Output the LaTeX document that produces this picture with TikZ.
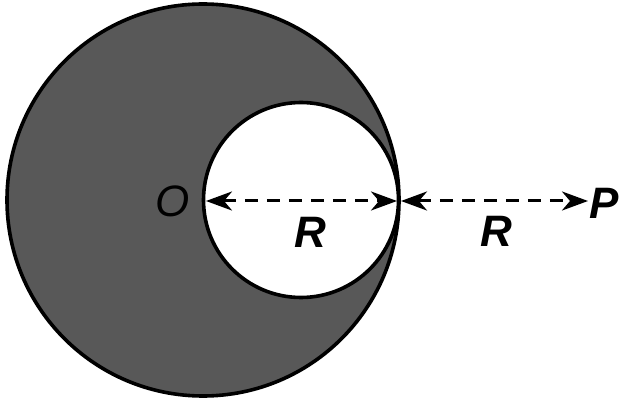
\documentclass[tikz,border=0pt]{standalone}
\usepackage{fontspec}
\setmainfont{Liberation Sans}
\usetikzlibrary{arrows.meta}
\definecolor{crescentgray}{RGB}{88,88,88}
\begin{document}
\begin{tikzpicture}[x=1pt,y=-1pt,
  outline/.style={line width=3.6pt,draw=black},
  dimline/.style={line width=3pt,dash pattern=on 13pt off 9pt,{Stealth[length=26pt,width=19pt,inset=8pt]}-{Stealth[length=26pt,width=19pt,inset=8pt]}},
  lbl/.style={font=\fontsize{44}{44}\selectfont\bfseries\itshape,inner sep=0pt,anchor=base}]
\useasboundingbox (0,0) rectangle (619,398);
\fill[crescentgray,even odd rule] (203,200) circle[radius=196] (301,200) circle[radius=97.5];
\draw[outline] (203,200) circle[radius=196];
\draw[outline] (301,200) circle[radius=97.5];
\coordinate (a1) at (206,201);
\coordinate (a2) at (397,201);
\coordinate (b1) at (401,201);
\coordinate (b2) at (588,201);
\draw[dimline] (a1) -- (a2);
\draw[dimline] (b1) -- (b2);
\node[lbl] (O) at (173,217) {\mdseries O};
\node[lbl] (R1) at (310,248) {R};
\node[lbl] (R2) at (496,247) {R};
\node[lbl] (P) at (604,219) {P};
\end{tikzpicture}
\end{document}
